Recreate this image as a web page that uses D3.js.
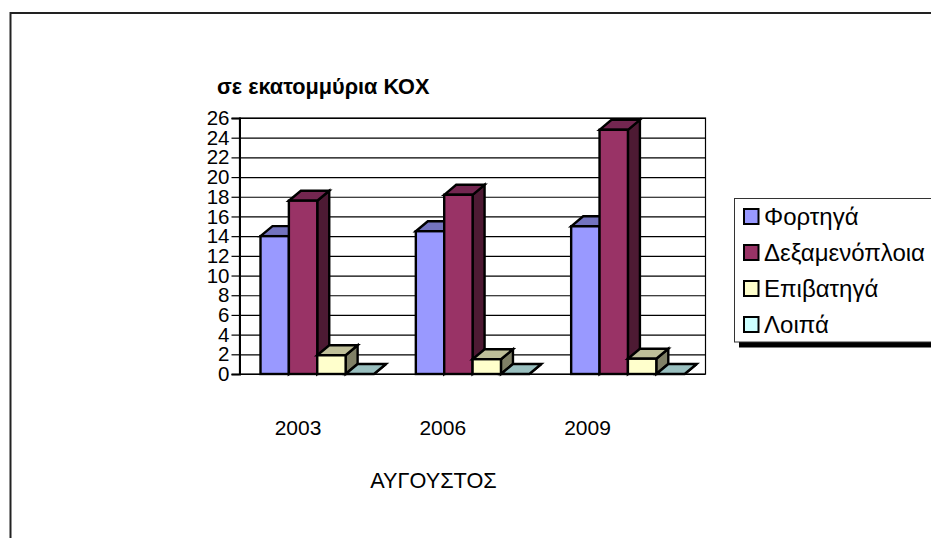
<!DOCTYPE html>
<html>
<head>
<meta charset="utf-8">
<script src="https://cdn.jsdelivr.net/npm/d3@7"></script>
<style>
	html, body { margin: 0; padding: 0; background: #fff; overflow: hidden; }
	svg { display: block; }
	text { font-family: "Liberation Sans", Arial, sans-serif; fill: #000; }
</style>
</head>
<body>
<div id="chart"></div>
<script>
const years = ['2003', '2006', '2009'];
const seriesNames = ['Φορτηγά', 'Δεξαμενόπλοια', 'Επιβατηγά', 'Λοιπά'];
const fortiga = [14, 14.5, 15];
const dexamenoploia = [17.6, 18.2, 24.8];
const epivatiga = [1.9, 1.5, 1.55];
const loipa = [0, 0, 0];
const yTicks = d3.range(0, 27, 2);
const seriesValues = [fortiga, dexamenoploia, epivatiga, loipa];
const frontColors = ['#9999ff', '#993366', '#ffffcc', '#ccffff'];
const topColors = ['#7373bf', '#732650', '#bfbf99', '#99bfbf'];
const sideColors = ['#4d4d80', '#4d1a33', '#808066', '#668080'];

const width = 931,
	height = 538,
	plot = {left: 239.5, right: 705.5, top: 118, bottom: 374},
	depthX = 12,
	depthY = 10;

const svg = d3.select('#chart').append('svg').attr('width', width).attr('height', height);

//outer frame, cut by the window on the right and bottom
svg.append('path')
	.attr('d', `M10.5,${height}V13H${width}`)
	.attr('fill', 'none')
	.attr('stroke', '#222')
	.attr('stroke-width', 2);

//X scale - year
const x0 = d3.scaleBand()
	.domain(years)
	.range([plot.left, plot.right]);
//X scale - series
const x1 = d3.scaleBand()
	.domain(seriesNames)
	.range([21, 134.5]);
const y = d3.scaleLinear()
	.domain([0, 26])
	.range([plot.bottom, plot.top]);
//the year labels do not sit under their groups in the original
const xLabels = d3.scalePoint()
	.domain(years)
	.range([297.5, 587]);

//grid lines
svg.append('g')
	.attr('transform', `translate(${plot.left},0)`)
	.call(d3.axisLeft(y).tickValues(yTicks).tickSize(-(plot.right - plot.left)).tickFormat(''))
	.call(g => g.select('.domain').remove())
	.selectAll('line')
	.attr('stroke', '#000')
	.attr('stroke-width', 1.2);

//plot border
svg.append('rect')
	.attr('x', plot.left)
	.attr('y', plot.top)
	.attr('width', plot.right - plot.left)
	.attr('height', plot.bottom - plot.top)
	.attr('fill', 'none')
	.attr('stroke', '#000')
	.attr('stroke-width', 1.2);

//y axis
const yAxis = svg.append('g')
	.attr('transform', `translate(${plot.left},0)`)
	.call(d3.axisLeft(y).tickValues(yTicks).tickSize(8).tickPadding(2));
yAxis.select('.domain').attr('stroke', '#000').attr('stroke-width', 2);
yAxis.selectAll('line').attr('stroke', '#000').attr('stroke-width', 1.2);
yAxis.selectAll('text').attr('font-size', 20.5).attr('font-family', '"Liberation Sans", Arial, sans-serif');

//flatten to one record per bar
const bars = [];
years.forEach((year, i) => {
	seriesNames.forEach((name, s) => {
		bars.push({year: year, name: name, s: s, value: seriesValues[s][i]});
	});
});

//append bars, left to right so each one covers the side of the one before
const bar = svg.append('g')
	.selectAll('g')
	.data(bars)
	.enter()
	.append('g')
	.attr('stroke', '#000')
	.attr('stroke-width', 2.4)
	.attr('stroke-linejoin', 'miter');

const xa = d => x0(d.year) + x1(d.name);
const xb = d => xa(d) + x1.bandwidth();

bar.append('polygon')
	.attr('points', d => [
		[xb(d), y(d.value)],
		[xb(d) + depthX, y(d.value) - depthY],
		[xb(d) + depthX, y(0) - depthY],
		[xb(d), y(0)]
	].join(' '))
	.attr('fill', d => sideColors[d.s]);

bar.append('polygon')
	.attr('points', d => [
		[xa(d), y(d.value)],
		[xa(d) + depthX, y(d.value) - depthY],
		[xb(d) + depthX, y(d.value) - depthY],
		[xb(d), y(d.value)]
	].join(' '))
	.attr('fill', d => topColors[d.s]);

bar.filter(d => d.value > 0)
	.append('rect')
	.attr('x', xa)
	.attr('y', d => y(d.value))
	.attr('width', x1.bandwidth())
	.attr('height', d => y(0) - y(d.value))
	.attr('fill', d => frontColors[d.s]);

//year labels
const xAxis = svg.append('g')
	.attr('transform', 'translate(0,412)')
	.call(d3.axisBottom(xLabels).tickSize(0).tickPadding(8));
xAxis.select('.domain').remove();
xAxis.selectAll('text').attr('font-size', 21).attr('font-family', '"Liberation Sans", Arial, sans-serif');

//titles
svg.append('text')
	.attr('x', 217)
	.attr('y', 94)
	.attr('font-size', 21.7)
	.attr('font-weight', 'bold')
	.text('σε εκατομμύρια ΚΟΧ');

svg.append('text')
	.attr('x', 433.5)
	.attr('y', 488)
	.attr('text-anchor', 'middle')
	.attr('font-size', 21.7)
	.text('ΑΥΓΟΥΣΤΟΣ');

//legend
svg.append('rect')
	.attr('x', 739)
	.attr('y', 342)
	.attr('width', width - 739)
	.attr('height', 5.5)
	.attr('fill', '#000');
svg.append('rect')
	.attr('x', 734.5)
	.attr('y', 198.5)
	.attr('width', width)
	.attr('height', 143.5)
	.attr('fill', '#fff')
	.attr('stroke', '#333');

const legendY = d3.scalePoint()
	.domain(seriesNames)
	.range([216.5, 324.5]);

const legend = svg.append('g')
	.selectAll('g')
	.data(seriesNames)
	.enter()
	.append('g')
	.attr('transform', d => `translate(744,${legendY(d)})`);

legend.append('rect')
	.attr('y', -7.5)
	.attr('width', 14.5)
	.attr('height', 15)
	.attr('fill', (d, i) => frontColors[i])
	.attr('stroke', '#000')
	.attr('stroke-width', 2);

legend.append('text')
	.attr('x', 20)
	.attr('dy', '0.36em')
	.attr('font-size', 24)
	.text(d => d);
</script>
</body>
</html>
